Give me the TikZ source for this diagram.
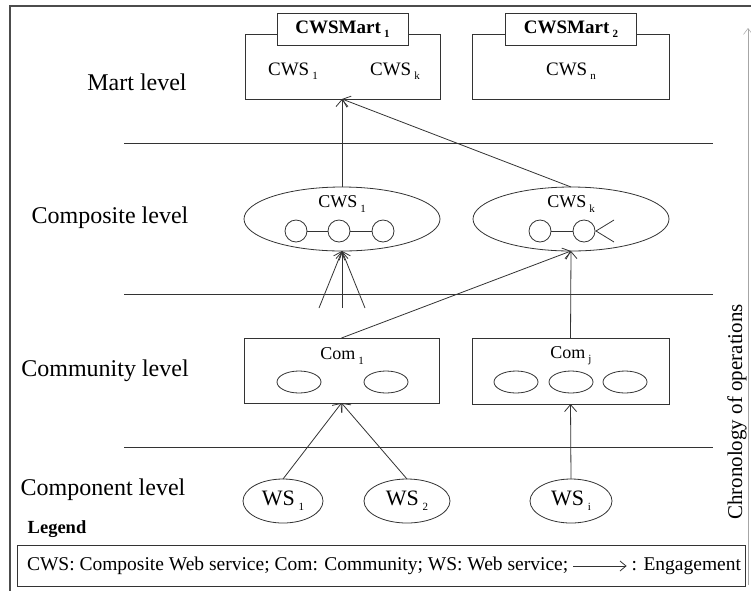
\documentclass[tikz,border=0pt]{standalone}
\usepackage{fontspec}
\setmainfont{Liberation Serif}
\usetikzlibrary{arrows.meta,shapes.geometric}
\newcommand\mysub[1]{\,\raisebox{-0.5ex}{\fontsize{11}{11}\selectfont #1}}
\begin{document}
\begin{tikzpicture}[x=1pt,y=-1pt,
  every node/.style={inner sep=0pt, outer sep=0pt},
  ln/.style={line width=0.8pt, draw=black!80},
  arr/.style={ln, -{Straight Barb[length=7pt,width=12pt]}},
  lvl/.style={font=\fontsize{24}{24}\selectfont},
  lbl/.style={font=\fontsize{18}{18}\selectfont},
  mlbl/.style={font=\fontsize{19}{19}\selectfont},
  wlbl/.style={font=\fontsize{22}{22}\selectfont},
  boxn/.style={ln, rectangle},
  tabn/.style={ln, rectangle, fill=white, minimum width=131pt, minimum height=32pt, font=\fontsize{19}{19}\selectfont\bfseries},
  ell/.style={ln, ellipse},
  smallc/.style={ln, circle, minimum size=22pt},
  smalle/.style={ln, ellipse, minimum width=44pt, minimum height=22pt},
  sep/.style={line width=0.8pt, black!80}
]
\useasboundingbox (0,0) rectangle (751,590);
% outer frame
\draw[line width=1.5pt, black!70] (10,595) -- (10,6) -- (752,6);
% chronology arrow
\coordinate (chrbot) at (748,585);
\coordinate (chrtop) at (748,28);
\draw[line width=0.5pt, black!35, -{Straight Barb[length=6pt,width=9pt]}] (chrbot) -- (chrtop);
\node[font=\fontsize{21}{21}\selectfont, rotate=90] (chron) at (737,412) {Chronology of operations};

% level separators
\coordinate (s1l) at (124,143); \coordinate (s1r) at (713,143);
\coordinate (s2l) at (124,294); \coordinate (s2r) at (713,294);
\coordinate (s3l) at (124,447); \coordinate (s3r) at (713,447);
\draw[sep] (s1l) -- (s1r);
\draw[sep] (s2l) -- (s2r);
\draw[sep] (s3l) -- (s3r);

% level labels
\node[lvl] (lmart) at (137,82) {Mart level};
\node[lvl] (lcomp) at (110,218) {Composite level};
\node[lvl] (lcomm) at (105,371) {Community level};
\node[lvl] (lcmpn) at (103,490) {Component level};

% Mart level
\node[boxn, minimum width=195pt, minimum height=65pt] (mart1) at (342.5,66.5) {};
\node[tabn] (tab1) at (342.5,29) {CWSMart\mysub{1}};
\node[mlbl] (m1c1) at (293,71) {CWS\mysub{1}};
\node[mlbl] (m1ck) at (395,71) {CWS\mysub{k}};
\node[boxn, minimum width=197pt, minimum height=65pt] (mart2) at (570.5,66.5) {};
\node[tabn] (tab2) at (571,29) {CWSMart\mysub{2}};
\node[mlbl] (m2cn) at (571,71) {CWS\mysub{n}};
\coordinate (martin) at (342,99);

% Composite level
\node[ell, minimum width=196pt, minimum height=64pt] (cws1) at (342,219) {};
\node[lbl] (cws1t) at (342,204) {CWS\mysub{1}};
\node[smallc] (a1) at (296,231) {};
\node[smallc] (a2) at (339,231) {};
\node[smallc] (a3) at (383,231) {};
\draw[ln] (a1) -- (a2); \draw[ln] (a2) -- (a3);
\node[ell, minimum width=196pt, minimum height=64pt] (cwsk) at (571,219) {};
\node[lbl] (cwskt) at (571,204) {CWS\mysub{k}};
\node[smallc] (b1) at (540,231) {};
\node[smallc] (b2) at (584,231) {};
\draw[ln] (b1) -- (b2);
\coordinate (fk0) at (596,231);
\coordinate (fk1) at (614,220);
\coordinate (fk2) at (614,242);
\draw[ln] (fk1) -- (fk0) -- (fk2);

% Community level
\node[boxn, minimum width=195pt, minimum height=65pt] (com1) at (341.5,370.5) {};
\node[lbl] (com1t) at (342,356) {Com\mysub{1}};
\node[smalle] (e1) at (299,382) {};
\node[smalle] (e2) at (386,382) {};
\node[boxn, minimum width=197pt, minimum height=66pt] (comj) at (570.5,371) {};
\node[lbl] (comjt) at (571,356) {Com\mysub{j}};
\node[smalle] (e3) at (516,382) {};
\node[smalle] (e4) at (571,382) {};
\node[smalle] (e5) at (625,382) {};

% Component level
\node[ell, minimum width=80pt, minimum height=44pt, wlbl] (ws1) at (283,501) {WS\mysub{1}};
\node[ell, minimum width=86pt, minimum height=44pt, wlbl] (ws2) at (407,501) {WS\mysub{2}};
\node[ell, minimum width=82pt, minimum height=44pt, wlbl] (wsi) at (571,501) {WS\mysub{i}};

% arrows
\draw[arr] (cws1.north) -- (martin);
\draw[arr] (cwsk.north) -- (martin);
\coordinate (in1) at (319,308);
\coordinate (in2) at (342,308);
\coordinate (in3) at (365,308);
\draw[arr] (in1) -- (cws1.south);
\draw[arr] (in2) -- (cws1.south);
\draw[arr] (in3) -- (cws1.south);
\draw[arr] (com1.north) -- (cwsk.south);
\draw[arr] (comj.north) -- (cwsk.south);
\draw[arr] (ws1.north) -- (com1.south);
\draw[arr] (ws2.north) -- (com1.south);
\draw[arr] (wsi.north) -- (comj.south);

% Legend
\node[font=\fontsize{18.5}{18.5}\selectfont\bfseries] (legt) at (57,529) {Legend};
\node[draw=black!80, line width=1pt, minimum width=728pt, minimum height=41pt] (legbox) at (381,565.5) {};
\node[font=\fontsize{19.5}{19.5}\selectfont, anchor=west] (leg1) at (27,566) {CWS: Composite Web service; Com: Community; WS: Web service;};
\node[font=\fontsize{19.5}{19.5}\selectfont, anchor=east] (leg2) at (741,566) {: Engagement};
\draw[ln, -{Straight Barb[length=6pt,width=10pt]}] ([xshift=5pt]leg1.east) -- ([xshift=-5pt]leg2.west);
\end{tikzpicture}
\end{document}
